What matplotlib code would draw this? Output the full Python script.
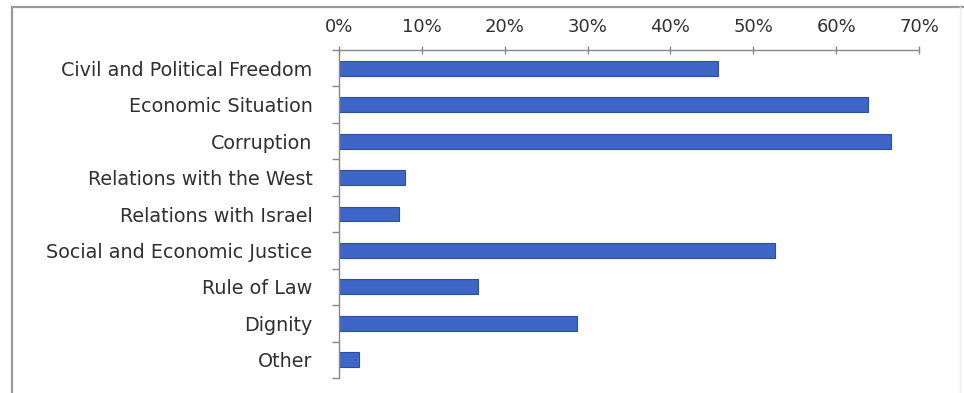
import matplotlib
matplotlib.use("Agg")
import matplotlib.pyplot as plt
from matplotlib.lines import Line2D
from matplotlib.ticker import FixedLocator, PercentFormatter

categories = ["Civil and Political Freedom", "Economic Situation", "Corruption",
              "Relations with the West", "Relations with Israel",
              "Social and Economic Justice", "Rule of Law", "Dignity", "Other"]
values = [45.7, 63.8, 66.6, 8.0, 7.3, 52.6, 16.8, 28.7, 2.4]
xticks = [0, 10, 20, 30, 40, 50, 60, 70]

W, H = 964, 393
fig = plt.figure(figsize=(W / 100, H / 100), dpi=100)
ax = fig.add_axes([339 / W, 1 - 378 / H, (919 - 339) / W, (378 - 50) / H])

ypos = list(range(len(categories)))
ax.barh(ypos, values, height=0.41, color="#3d66c6", edgecolor="#2c4f9c", linewidth=0.8)

ax.set_xlim(0, 70)
ax.set_ylim(len(categories) - 0.5, -0.5)
ax.xaxis.tick_top()
ax.set_xticks(xticks)
ax.xaxis.set_major_formatter(PercentFormatter(decimals=0))
ax.set_yticks(ypos)
ax.set_yticklabels(categories)
ax.yaxis.set_minor_locator(FixedLocator([i - 0.5 for i in range(len(categories) + 1)]))

txt = "#303030"
ax.tick_params(axis="x", which="major", direction="inout", length=6, width=1,
               color="#888888", labelsize=13, labelcolor=txt, pad=7)
ax.tick_params(axis="y", which="major", length=0, labelsize=13.8, labelcolor=txt, pad=19)
ax.tick_params(axis="y", which="minor", direction="out", length=5, width=1, color="#888888")

for s in ["right", "bottom"]:
    ax.spines[s].set_visible(False)
for s in ["left", "top"]:
    ax.spines[s].set_color("#888888")
    ax.spines[s].set_linewidth(1)

# outer frame
fig.add_artist(Line2D([12 / W, 12 / W], [0, 1 - 7 / H], transform=fig.transFigure,
                      color="#9a9a9a", linewidth=1.6))
fig.add_artist(Line2D([12 / W, 1], [1 - 7 / H, 1 - 7 / H], transform=fig.transFigure,
                      color="#9a9a9a", linewidth=1.6))
fig.add_artist(Line2D([960 / W, 960 / W], [0, 1 - 7 / H], transform=fig.transFigure,
                      color="#eeeeee", linewidth=1))

fig.savefig("out.png", dpi=100)
